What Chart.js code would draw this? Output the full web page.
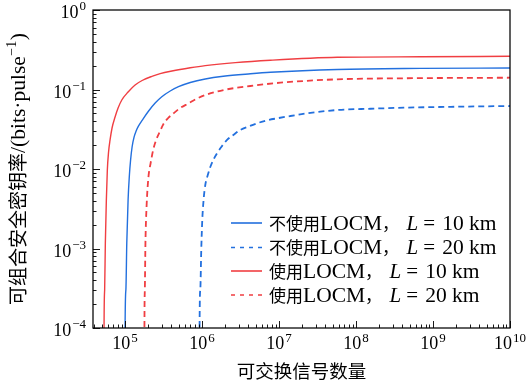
<!DOCTYPE html>
<html><head><meta charset="utf-8">
<script src="https://cdn.jsdelivr.net/npm/chart.js@4"></script>
<style>html,body{margin:0;padding:0;background:#fff}#wrap{width:528px;height:385px}</style>
</head><body><div id="wrap"><canvas id="c" width="528" height="385"></canvas></div>
<script>
// ---- text ----
const xTitle = '可交换信号数量';
const yTitleCJK = '可组合安全密钥率';
const yTitleUnit = '/(bits·pulse';
const seriesPrefix = ['不使用', '不使用', '使用', '使用'];
const seriesL = ['10', '20', '10', '20'];
const xTickExps = [5, 6, 7, 8, 9, 10];
const yTickExps = [-4, -3, -2, -1, 0];

// ---- data ----
const blueSolidX = [9.95e4, 1.0e5, 1.024e5, 1.052e5, 1.094e5, 1.138e5, 1.179e5, 1.233e5, 1.31e5, 1.391e5, 1.49e5, 1.716e5, 2.01e5, 2.458e5, 3.0e5, 3.855e5, 4.94e5, 7.02e5, 1.10e6, 1.888e6, 4.25e6, 7.73e6, 5.71e7, 6.93e8, 1e10];
const blueSolidY = [1e-6, 1.0e-4, 3.0e-4, 1.17e-3, 4.07e-3, 8.41e-3, 0.01298, 0.0189, 0.0253, 0.0301, 0.03454, 0.04279, 0.05333, 0.06762, 0.0811, 0.0957, 0.1084, 0.1225, 0.1356, 0.1466, 0.1576, 0.1646, 0.1785, 0.1842, 0.1864];

const blueDashX = [9.26e5, 9.28e5, 9.48e5, 9.76e5, 1.006e6, 1.046e6, 1.101e6, 1.186e6, 1.279e6, 1.399e6, 1.563e6, 1.778e6, 2.11e6, 2.549e6, 3.144e6, 3.996e6, 5.186e6, 6.855e6, 9.45e6, 1.407e7, 2.322e7, 5.71e7, 1.549e8, 4.17e8, 1.706e9, 1e10];
const blueDashY = [1e-6, 1.0e-4, 3.0e-4, 9.58e-4, 2.28e-3, 4.07e-3, 6.29e-3, 8.4e-3, 0.0106, 0.013, 0.01575, 0.0189, 0.0232, 0.0268, 0.031, 0.0342, 0.0376, 0.0408, 0.0434, 0.0464, 0.0502, 0.0552, 0.0573, 0.059, 0.0606, 0.062];

const redSolidX = [5.30e4, 5.33e4, 5.426e4, 5.54e4, 5.71e4, 5.88e4, 6.1e4, 6.38e4, 6.77e4, 7.41e4, 8.11e4, 9.06e4, 1.094e5, 1.349e5, 1.665e5, 2.227e5, 2.856e5, 4.06e5, 7.02e5, 1.10e6, 2.71e6, 7.73e6, 5.71e7, 6.93e8, 1e10];
const redSolidY = [1e-6, 1.0e-4, 3.0e-4, 1.17e-3, 4.07e-3, 9.71e-3, 0.01636, 0.0232, 0.0328, 0.0451, 0.0585, 0.0738, 0.093, 0.114, 0.1298, 0.1462, 0.1585, 0.1709, 0.1875, 0.1998, 0.2181, 0.2336, 0.254, 0.2577, 0.2616];

const redDashX = [1.775e5, 1.784e5, 1.805e5, 1.838e5, 1.905e5, 2.011e5, 2.148e5, 2.315e5, 2.533e5, 2.856e5, 3.153e5, 3.63e5, 4.26e5, 5.2e5, 6.67e5, 8.4e5, 1.10e6, 1.906e6, 4.25e6, 1.042e7, 5.71e7, 4.17e8, 1e10];
const redDashY = [1e-6, 1.0e-4, 3.0e-4, 1.17e-3, 3.52e-3, 7.93e-3, 0.0119, 0.01734, 0.0232, 0.0301, 0.0368, 0.0438, 0.0502, 0.0585, 0.067, 0.076, 0.0853, 0.0986, 0.1107, 0.1218, 0.1343, 0.1384, 0.1407];

const BLUE = 'rgb(35,112,222)';
const RED = 'rgb(240,62,66)';
const SERIF = '"Liberation Serif", "DejaVu Serif", serif';
const CJK = '"Noto Sans CJK SC", sans-serif';

function pts(xs, ys) { return xs.map((x, i) => ({ x: x, y: ys[i] })); }

const datasets = [
  { label: 'b10', data: pts(blueSolidX, blueSolidY), borderColor: BLUE, borderWidth: 1.4, borderDash: [] },
  { label: 'b20', data: pts(blueDashX, blueDashY), borderColor: BLUE, borderWidth: 1.8, borderDash: [6, 4] },
  { label: 'r10', data: pts(redSolidX, redSolidY), borderColor: RED, borderWidth: 1.4, borderDash: [] },
  { label: 'r20', data: pts(redDashX, redDashY), borderColor: RED, borderWidth: 1.8, borderDash: [6, 4] }
].map(d => Object.assign(d, { pointRadius: 0, fill: false, cubicInterpolationMode: 'monotone' }));

function drawPow(ctx, exp, x, y, align, raise) {
  const base = '10';
  const sup = exp < 0 ? '\u2212' + (-exp) : String(exp);
  ctx.font = '18px ' + SERIF;
  const wb = ctx.measureText(base).width;
  ctx.font = '13px ' + SERIF;
  const ws = ctx.measureText(sup).width;
  const total = wb + 1 + ws;
  const sx = align === 'right' ? x - total : x - total / 2;
  ctx.textAlign = 'left';
  ctx.textBaseline = 'alphabetic';
  ctx.font = '18px ' + SERIF;
  ctx.fillText(base, sx, y);
  ctx.font = '13px ' + SERIF;
  ctx.fillText(sup, sx + wb + 1, y - raise);
}

function drawSegs(ctx, segs, x, y) {
  ctx.textAlign = 'left';
  ctx.textBaseline = 'alphabetic';
  for (const s of segs) {
    x += (s.pre || 0);
    ctx.font = s.font;
    ctx.fillText(s.text, x, y + (s.dy || 0));
    x += ctx.measureText(s.text).width + (s.gap || 0);
  }
  return x;
}
function segWidth(ctx, segs) {
  let w = 0;
  for (const s of segs) { ctx.font = s.font; w += (s.pre || 0) + ctx.measureText(s.text).width + (s.gap || 0); }
  return w;
}

const decor = {
  id: 'decor',
  afterDatasetsDraw(chart) {
    const ctx = chart.ctx;
    const a = chart.chartArea;
    const xs = chart.scales.x, ys = chart.scales.y;
    ctx.save();
    ctx.strokeStyle = '#000';
    ctx.fillStyle = '#000';
    // frame
    ctx.lineWidth = 1.25;
    ctx.strokeRect(a.left, a.top, a.right - a.left, a.bottom - a.top);
    // ticks (inward)
    ctx.lineWidth = 0.9;
    for (let e = -5; e <= 1; e++) {
      for (let m = 1; m <= 9; m++) {
        const v = m * Math.pow(10, e);
        if (v < ys.min * 0.999 || v > ys.max * 1.001) continue;
        const p = Math.round(ys.getPixelForValue(v)) + 0.5;
        const len = m === 1 ? 7 : 3.5;
        ctx.beginPath(); ctx.moveTo(a.left, p); ctx.lineTo(a.left + len, p); ctx.stroke();
      }
    }
    for (let e = 4; e <= 10; e++) {
      for (let m = 1; m <= 9; m++) {
        const v = m * Math.pow(10, e);
        if (v < xs.min * 0.999 || v > xs.max * 1.001) continue;
        const p = Math.round(xs.getPixelForValue(v)) + 0.5;
        const len = m === 1 ? 7 : 3.5;
        ctx.beginPath(); ctx.moveTo(p, a.bottom); ctx.lineTo(p, a.bottom - len); ctx.stroke();
      }
    }
    // tick labels
    for (const e of yTickExps) {
      const p = ys.getPixelForValue(Math.pow(10, e));
      drawPow(ctx, e, a.left - 7, p + 8, 'right', 8);
    }
    for (const e of xTickExps) {
      const p = xs.getPixelForValue(Math.pow(10, e));
      drawPow(ctx, e, p, a.bottom + 21, 'center', 7);
    }
    // y title (rotated)
    const ySegs = [
      { text: yTitleCJK, font: '19px ' + CJK },
      { text: yTitleUnit, font: '21.5px ' + SERIF },
      { text: '\u22121', font: '14px ' + SERIF, dy: -9, gap: 0.5, pre: 0.5 },
      { text: ')', font: '21.5px ' + SERIF }
    ];
    const tw = segWidth(ctx, ySegs);
    ctx.save();
    ctx.translate(18, (a.top + a.bottom) / 2);
    ctx.rotate(-Math.PI / 2);
    drawSegs(ctx, ySegs, -tw / 2, 7);
    ctx.restore();
    // legend
    const lx0 = a.right - 279, lx1 = lx0 + 31, tx = lx0 + 38;
    const rowY = [a.bottom - 105, a.bottom - 80.5, a.bottom - 57, a.bottom - 33];
    chart.data.datasets.forEach((d, i) => {
      const y = rowY[i];
      ctx.save();
      ctx.strokeStyle = d.borderColor;
      ctx.lineWidth = 1.6;
      ctx.setLineDash(d.borderDash && d.borderDash.length ? [4, 5] : []);
      ctx.beginPath(); ctx.moveTo(lx0, y); ctx.lineTo(lx1, y); ctx.stroke();
      ctx.restore();
      drawSegs(ctx, [
        { text: seriesPrefix[i], font: '17px ' + CJK },
        { text: 'LOCM', font: '21.5px ' + SERIF },
        { text: '，', font: '17px ' + CJK, gap: 7.5 },
        { text: 'L', font: 'italic 21px ' + SERIF, gap: 5 },
        { text: '=', font: '21px ' + SERIF, gap: 7 },
        { text: seriesL[i] + ' km', font: '21.5px ' + SERIF }
      ], tx, y + 6.5);
    });
    ctx.restore();
  }
};

new Chart(document.getElementById('c'), {
  type: 'line',
  data: { datasets: datasets },
  options: {
    responsive: false,
    animation: false,
    devicePixelRatio: 1,
    layout: { padding: { left: 0, right: 18, top: 10, bottom: 0 } },
    plugins: { legend: { display: false }, tooltip: { enabled: false } },
    scales: {
      x: {
        type: 'logarithmic', min: 3.83e4, max: 1e10,
        grid: { display: false }, border: { display: false },
        ticks: { display: false },
        title: { display: true, text: xTitle, color: '#000', font: { family: CJK, size: 18.5 }, padding: { top: 0, bottom: 3 } },
        afterFit(s) { s.height = 57; }
      },
      y: {
        type: 'logarithmic', min: 1e-4, max: 1,
        grid: { display: false }, border: { display: false },
        ticks: { display: false },
        afterFit(s) { s.width = 93; }
      }
    }
  },
  plugins: [decor]
});
</script></body></html>
